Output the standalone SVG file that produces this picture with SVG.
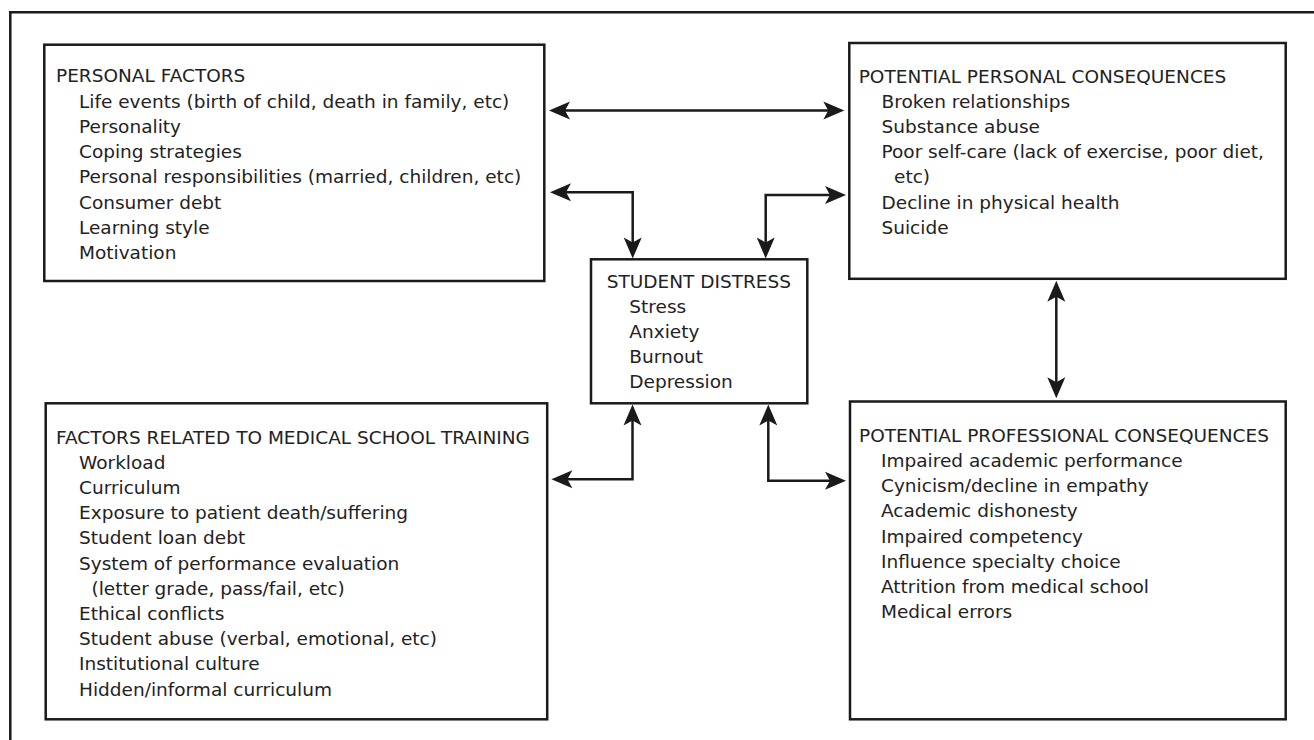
<svg xmlns="http://www.w3.org/2000/svg" width="1314" height="740" viewBox="0 0 1314 740">
<defs>
<style>
.box{fill:#fff;stroke:#1a1a1a;stroke-width:2.5}
.t{font-family:"DejaVu Sans","Liberation Sans",sans-serif;font-size:18.5px;fill:#222}
.c{fill:none;stroke:#1a1a1a;stroke-width:2.5}
</style>
<marker id="ah" markerUnits="userSpaceOnUse" viewBox="-14 -10 23 20" refX="0" refY="0" markerWidth="23" markerHeight="20" orient="auto-start-reverse">
<path d="M8,0 L-13,-9 L-8,0 L-13,9 Z" fill="#1a1a1a"/>
</marker>
</defs>
<rect width="1314" height="740" fill="#fff"/>
<path d="M10.3,742 V12.3 H1316" fill="none" stroke="#1a1a1a" stroke-width="2.5"/>

<g id="personal-factors">
<rect class="box" x="44.3" y="44.7" width="500" height="236.3"/>
<text class="t" x="56" y="82.3">PERSONAL FACTORS</text>
<text class="t" x="79" y="107.7">Life events (birth of child, death in family, etc)</text>
<text class="t" x="79" y="132.9">Personality</text>
<text class="t" x="79" y="158.1">Coping strategies</text>
<text class="t" x="79" y="183.3">Personal responsibilities (married, children, etc)</text>
<text class="t" x="79" y="208.5">Consumer debt</text>
<text class="t" x="79" y="233.7">Learning style</text>
<text class="t" x="79" y="258.9">Motivation</text>
</g>

<g id="personal-consequences">
<rect class="box" x="849.3" y="43" width="436.4" height="235.8"/>
<text class="t" x="858.7" y="82.7">POTENTIAL PERSONAL CONSEQUENCES</text>
<text class="t" x="881.5" y="107.7">Broken relationships</text>
<text class="t" x="881.5" y="132.9">Substance abuse</text>
<text class="t" x="881.5" y="158.1">Poor self-care (lack of exercise, poor diet,</text>
<text class="t" x="894" y="183.3">etc)</text>
<text class="t" x="881.5" y="208.5">Decline in physical health</text>
<text class="t" x="881.5" y="233.7">Suicide</text>
</g>

<g id="student-distress">
<rect class="box" x="591" y="259.3" width="216.3" height="144"/>
<text class="t" x="606.7" y="287.7">STUDENT DISTRESS</text>
<text class="t" x="629.3" y="312.7">Stress</text>
<text class="t" x="629.3" y="337.9">Anxiety</text>
<text class="t" x="629.3" y="363.1">Burnout</text>
<text class="t" x="629.3" y="388.3">Depression</text>
</g>

<g id="medical-school-factors">
<rect class="box" x="45.7" y="403.3" width="501.5" height="316"/>
<text class="t" x="56" y="443.5">FACTORS RELATED TO MEDICAL SCHOOL TRAINING</text>
<text class="t" x="79" y="468.7">Workload</text>
<text class="t" x="79" y="493.9">Curriculum</text>
<text class="t" x="79" y="519.1">Exposure to patient death/suffering</text>
<text class="t" x="79" y="544.3">Student loan debt</text>
<text class="t" x="79" y="569.5">System of performance evaluation</text>
<text class="t" x="91.5" y="594.7">(letter grade, pass/fail, etc)</text>
<text class="t" x="79" y="619.9">Ethical conflicts</text>
<text class="t" x="79" y="645.1">Student abuse (verbal, emotional, etc)</text>
<text class="t" x="79" y="670.3">Institutional culture</text>
<text class="t" x="79" y="695.5">Hidden/informal curriculum</text>
</g>

<g id="professional-consequences">
<rect class="box" x="850" y="401.5" width="435.7" height="317.8"/>
<text class="t" x="859" y="442">POTENTIAL PROFESSIONAL CONSEQUENCES</text>
<text class="t" x="881" y="467">Impaired academic performance</text>
<text class="t" x="881" y="492.2">Cynicism/decline in empathy</text>
<text class="t" x="881" y="517.4">Academic dishonesty</text>
<text class="t" x="881" y="542.6">Impaired competency</text>
<text class="t" x="881" y="567.8">Influence specialty choice</text>
<text class="t" x="881" y="593">Attrition from medical school</text>
<text class="t" x="881" y="618.2">Medical errors</text>
</g>

<g id="connectors">
<path class="c" d="M557,110.5 H836.3" marker-start="url(#ah)" marker-end="url(#ah)"/>
<path class="c" d="M558,192.3 H632.7 V250.5" marker-start="url(#ah)" marker-end="url(#ah)"/>
<path class="c" d="M838,195 H765.7 V250.5" marker-start="url(#ah)" marker-end="url(#ah)"/>
<path class="c" d="M1056.3,288.7 V390.3" marker-start="url(#ah)" marker-end="url(#ah)"/>
<path class="c" d="M632.5,412.5 V479.3 H559.4" marker-start="url(#ah)" marker-end="url(#ah)"/>
<path class="c" d="M768.3,412.5 V480.7 H838" marker-start="url(#ah)" marker-end="url(#ah)"/>
</g>
</svg>
